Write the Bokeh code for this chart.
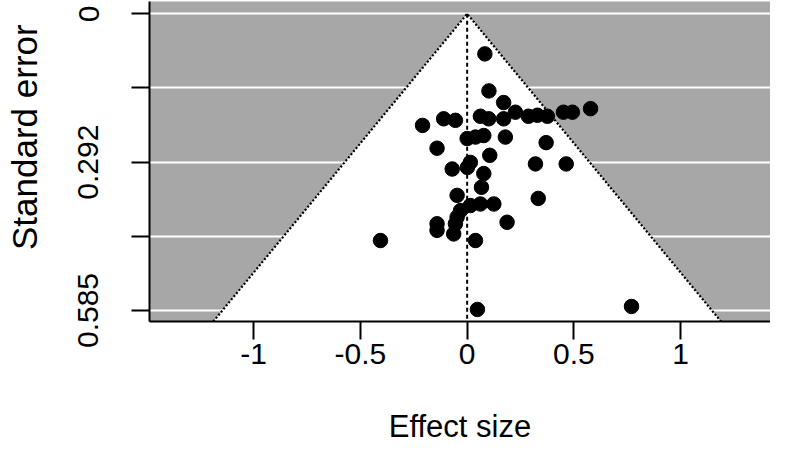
from bokeh.plotting import figure
from bokeh.models import Range1d, FixedTicker
from bokeh.embed import file_html
from bokeh.resources import INLINE

# Study effect sizes and standard errors
effect = [0.083, 0.102, 0.171, 0.578, 0.226, 0.451, 0.493, 0.287, 0.329, 0.376,
          0.062, 0.101, 0.171, -0.110, -0.055, -0.209, 0.000, 0.039, 0.078, 0.179,
          0.370, -0.141, 0.106, -0.070, 0.001, 0.015, 0.078, 0.320, 0.464, 0.067,
          -0.047, 0.015, 0.062, 0.125, 0.333, -0.031, -0.047, 0.187, -0.141, -0.141,
          -0.055, -0.063, 0.039, -0.406, 0.048, 0.770]
std_err = [0.079, 0.152, 0.175, 0.187, 0.194, 0.194, 0.194, 0.202, 0.200, 0.202,
           0.202, 0.207, 0.207, 0.207, 0.210, 0.220, 0.246, 0.243, 0.240, 0.243,
           0.254, 0.265, 0.279, 0.306, 0.303, 0.293, 0.315, 0.296, 0.296, 0.342,
           0.358, 0.378, 0.375, 0.375, 0.364, 0.388, 0.401, 0.411, 0.414, 0.427,
           0.414, 0.434, 0.447, 0.447, 0.583, 0.577]

y_ticks = [0, 0.14625, 0.2925, 0.43875, 0.585]
y_tick_labels = ["0", "", "0.292", "", "0.585"]
x_ticks = [-1, -0.5, 0, 0.5, 1]
x_tick_labels = ["-1", "-0.5", "0", "0.5", "1"]

ref_effect = 0.0
z_crit = 1.96
x_lo, x_hi = -1.488, 1.421
se_top, se_bottom = -0.0243, 0.6067

FONT = "Liberation Sans"
GRAY = "#a7a7a7"

p = figure(frame_width=621, frame_height=320,
           min_border_left=149, min_border_right=0, min_border_top=1, min_border_bottom=135,
           x_range=Range1d(x_lo, x_hi), y_range=Range1d(se_bottom, se_top),
           output_backend="svg", toolbar_location=None,
           background_fill_color=GRAY, border_fill_color="white",
           outline_line_color=None)

# grid: white horizontal lines only
p.xgrid.visible = False
p.ygrid.ticker = FixedTicker(ticks=y_ticks)
p.ygrid.grid_line_color = "white"
p.ygrid.grid_line_width = 2

# funnel (pseudo confidence region)
fx = [ref_effect - z_crit * se_bottom, ref_effect, ref_effect + z_crit * se_bottom]
fy = [se_bottom, 0, se_bottom]
p.patch(fx, fy, fill_color="white", line_color=None)
p.line(fx, fy, line_color="black", line_width=2.2, line_dash="2 2")
p.line([ref_effect, ref_effect], [0, se_bottom], line_color="black", line_width=2, line_dash="4 3")

p.scatter(effect, std_err, size=14.5, fill_color="black", line_color="black")

# axes
xa = p.xaxis[0]
xa.ticker = FixedTicker(ticks=x_ticks)
xa.major_label_overrides = {t: l for t, l in zip(x_ticks, x_tick_labels)}
ya = p.yaxis[0]
ya.ticker = FixedTicker(ticks=y_ticks)
ya.major_label_overrides = {t: l for t, l in zip(y_ticks, y_tick_labels)}
ya.major_label_orientation = "vertical"

for ax in (xa, ya):
    ax.minor_tick_line_color = None
    ax.major_tick_in = 0
    ax.major_tick_out = 18
    ax.major_tick_line_width = 2
    ax.major_tick_line_color = "black"
    ax.axis_line_width = 2
    ax.axis_line_color = "black"
    ax.major_label_text_font = FONT
    ax.major_label_text_font_size = "30px"
    ax.major_label_text_color = "black"
    ax.axis_label_text_font = FONT
    ax.axis_label_text_font_style = "normal"
    ax.axis_label_text_color = "black"

xa.axis_label = "Effect size"
xa.axis_label_text_font_size = "31px"
xa.major_label_standoff = 4
xa.axis_label_standoff = 42

ya.axis_label = "\u00a0" * 5 + "Standard error"
ya.axis_label_text_font_size = "35px"
ya.major_label_standoff = 33
ya.axis_label_standoff = 32

open("out.html", "w").write(file_html(p, INLINE))
